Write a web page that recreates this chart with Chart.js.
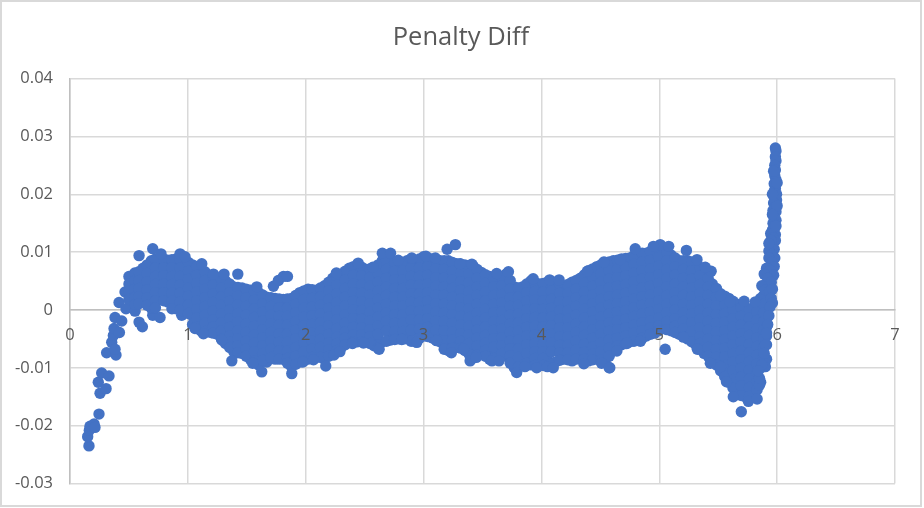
<!DOCTYPE html>
<html lang="en">
<head>
    <meta charset="UTF-8">
    <title>Penalty Diff</title>
    <script src="https://cdn.jsdelivr.net/npm/chart.js"></script>
    <style>
        body { margin: 0; background: #fff; }
        canvas { display: block; outline: 2px solid #d9d9d9; outline-offset: -2px; }
    </style>
</head>
<body>
<canvas id="penaltyChart" width="922" height="507"></canvas>

<script>
    // Values. Left tail, stray points, the spike near x=6.
    const tailX = [0.161,0.15,0.164,0.17,0.204,0.212,0.246,0.255,0.24,0.269,0.306,0.331,0.311,0.354,0.39,0.382,0.368,0.374,0.419,0.382,0.439,0.416,0.475,0.552,0.467,0.586,0.614,0.702,0.764,0.716,0.948];
    const tailY = [-0.0235,-0.0219,-0.0208,-0.0201,-0.0197,-0.0203,-0.018,-0.0144,-0.0125,-0.0109,-0.0136,-0.0114,-0.0074,-0.0056,-0.0078,-0.0068,-0.0044,-0.0032,-0.0039,-0.0013,-0.0019,0.0013,0.0002,-0.0002,0.0031,-0.0021,-0.0029,-0.0009,-0.0013,0.0003,-0.0009];

    const strayX = [0.586,0.702,0.772,0.934,0.976,1.118,1.217,1.307,1.424,1.585,1.726,1.768,1.811,1.845,1.061,1.132,1.288,1.373,1.627,1.882,1.55,2.17,3.2,3.27,2.65,2.72,5.05,5.696,5.72,5.44,5.23,4.796,5.008,5.433,5.205,5.323,5.628,5.756,5.83,5.85,4.84,4.725,4.58];
    const strayY = [0.0094,0.0106,0.0097,0.0097,0.0092,0.008,0.0062,0.0062,0.0062,0.004,0.0041,0.0051,0.0058,0.0058,-0.0032,-0.0041,-0.0052,-0.0088,-0.0107,-0.011,-0.0092,-0.0097,0.0105,0.0113,0.0098,0.0098,-0.0068,-0.0176,0.0015,0.0067,0.0103,0.0106,0.0113,-0.0092,-0.0047,-0.0068,-0.015,-0.0158,-0.0154,-0.013,-0.0054,-0.0058,-0.01];

    // Bumps along the upper and lower edge of the band
    const edgeX = [2.26,2.445,2.57,2.785,2.9,3.02,3.1,3.31,3.41,3.62,3.72,3.93,4.07,4.15,4.39,4.53,4.67,4.95,5.08,5.32,5.39,5.52,5.6,5.815,1.975,2.066,2.24,2.29,2.397,2.49,2.623,2.815,2.943,3.11,3.236,3.34,3.395,3.447,3.58,3.64,3.79,3.86,3.96,4.05,4.1,4.36,4.51,4.575,4.64,5.57,5.85,5.9,5.52];
    const edgeY = [0.0064,0.0081,0.0074,0.0086,0.009,0.0093,0.009,0.008,0.0079,0.0063,0.0066,0.0054,0.0052,0.0052,0.0067,0.0083,0.0087,0.011,0.011,0.0087,0.0074,0.0025,0.0014,0.0014,-0.009,-0.0086,-0.0078,-0.0072,-0.0058,-0.0057,-0.0068,-0.0051,-0.0056,-0.0053,-0.0074,-0.0067,-0.0088,-0.0082,-0.0088,-0.0088,-0.0108,-0.0098,-0.01,-0.0098,-0.01,-0.0093,-0.0092,-0.01,-0.0071,-0.0124,-0.0118,-0.0098,-0.0098];

    const spikeX = [5.985,5.99,5.985,5.99,5.98,5.985,5.98,5.99,5.975,5.985,5.975,5.995,5.98,5.995,5.97,5.985,5.965,5.99,5.975,5.99,5.965,5.98,5.96,5.985,5.945,5.97,5.94,5.985,5.95,5.975,5.93,5.955,5.98,5.93,5.955,5.975,5.91,5.94,5.97,5.89,5.92,5.95,5.87,5.9,5.935,5.96,5.95,5.96,5.94,5.93,5.92,5.91,5.9,5.89,5.87,5.84,5.97,6,5.96,6,5.96,5.95,5.93,5.99];
    const spikeY = [0.028,0.0275,0.0265,0.0258,0.025,0.0242,0.0232,0.0225,0.0218,0.021,0.0205,0.02,0.0192,0.019,0.0185,0.0178,0.0172,0.017,0.016,0.0155,0.015,0.0145,0.0138,0.013,0.0132,0.0125,0.0118,0.012,0.0108,0.0105,0.0102,0.0095,0.009,0.009,0.0082,0.0075,0.0072,0.0068,0.006,0.0062,0.0055,0.0048,0.0042,0.0035,0.0032,0.0036,0.002,0.0012,0.0005,-0.001,-0.0025,-0.004,-0.006,-0.0075,-0.0095,-0.0105,0.024,0.022,0.02,0.018,0.0165,0.012,0.0115,0.0145];

    // The dense band: one x per column, the y values seen or estimated in that column.
    const bandX = [0.5,0.55,0.62,0.69,0.76,0.83,0.9,0.97,1.04,1.11,1.18,1.25,1.32,1.39,1.46,1.53,1.6,1.67,1.74,1.81,1.88,1.95,2.02,2.09,2.16,2.23,2.3,2.37,2.44,2.51,2.58,2.65,2.72,2.79,2.86,2.93,3,3.07,3.14,3.21,3.28,3.35,3.42,3.49,3.56,3.63,3.7,3.77,3.84,3.91,3.98,4.05,4.12,4.19,4.26,4.33,4.4,4.47,4.54,4.61,4.68,4.75,4.82,4.89,4.96,5.03,5.1,5.17,5.24,5.31,5.38,5.45,5.52,5.59,5.66,5.73,5.8,5.86,5.91];
    const bandY = [
        [0.0058,0.0045,0.0032,0.0018],
        [0.0064,0.005,0.0036,0.0022,0.001],
        [0.0072,0.0058,0.0044,0.003,0.0016],
        [0.0085,0.007,0.0056,0.0042,0.0028,0.0014,0.0003],
        [0.009,0.0075,0.006,0.0046,0.0032,0.0018],
        [0.0086,0.0072,0.0058,0.0043,0.0029,0.0014],
        [0.0088,0.0074,0.0059,0.0045,0.003,0.0016,0.0002],
        [0.0086,0.0071,0.0057,0.0042,0.0028,0.0013,-0.0002],
        [0.0078,0.0063,0.0049,0.0034,0.002,0.0005,-0.001,-0.0025],
        [0.0072,0.0057,0.0042,0.0027,0.0012,-0.0003,-0.0019,-0.0036],
        [0.006,0.0045,0.0031,0.0016,0.0001,-0.0014,-0.0026,-0.0038],
        [0.0056,0.0041,0.0026,0.0011,-0.0004,-0.0019,-0.0031,-0.0042],
        [0.005,0.0036,0.0021,0.0006,-0.0009,-0.0024,-0.004,-0.0058],
        [0.004,0.0026,0.0011,-0.0004,-0.0019,-0.0034,-0.0049,-0.006,-0.0072],
        [0.0038,0.0023,0.0008,-0.0007,-0.0022,-0.0037,-0.0052,-0.0064,-0.0075],
        [0.0034,0.0019,0.0004,-0.0011,-0.0026,-0.0041,-0.0056,-0.0071,-0.0085],
        [0.003,0.0015,0,-0.0015,-0.003,-0.0045,-0.0058,-0.0072,-0.0084,-0.0095],
        [0.0022,0.0007,-0.0008,-0.0023,-0.0038,-0.0052,-0.0066,-0.0078,-0.009],
        [0.002,0.0005,-0.001,-0.0025,-0.004,-0.0055,-0.007,-0.0085],
        [0.0018,0.0003,-0.0012,-0.0027,-0.0042,-0.0057,-0.0071,-0.0085],
        [0.002,0.0005,-0.001,-0.0025,-0.004,-0.0055,-0.007,-0.0084,-0.0098],
        [0.003,0.0015,0,-0.0015,-0.003,-0.0045,-0.006,-0.0075,-0.009],
        [0.0036,0.0021,0.0006,-0.0009,-0.0024,-0.0039,-0.0054,-0.0069,-0.0085],
        [0.0034,0.0019,0.0004,-0.0011,-0.0026,-0.004,-0.0054,-0.0067,-0.008],
        [0.0042,0.0027,0.0012,-0.0003,-0.0018,-0.0033,-0.0048,-0.0063,-0.0075,-0.0085],
        [0.0055,0.004,0.0025,0.001,-0.0005,-0.002,-0.0035,-0.005,-0.0063,-0.0075],
        [0.0062,0.0047,0.0032,0.0017,0.0002,-0.0013,-0.0028,-0.0043,-0.0054,-0.0065],
        [0.0072,0.0057,0.0042,0.0027,0.0012,-0.0003,-0.0018,-0.0033,-0.0045,-0.0056],
        [0.0078,0.0063,0.0048,0.0033,0.0018,0.0003,-0.0012,-0.0027,-0.0042,-0.0055],
        [0.007,0.0055,0.004,0.0025,0.001,-0.0005,-0.002,-0.0035,-0.0045,-0.0054],
        [0.0072,0.0057,0.0042,0.0027,0.0012,-0.0003,-0.0018,-0.0033,-0.0048,-0.0062],
        [0.0085,0.007,0.0055,0.004,0.0025,0.001,-0.0005,-0.002,-0.0035,-0.0055],
        [0.0085,0.007,0.0055,0.004,0.0025,0.001,-0.0005,-0.002,-0.0036,-0.0052],
        [0.008,0.0065,0.005,0.0035,0.002,0.0005,-0.001,-0.0025,-0.0038,-0.005],
        [0.0085,0.007,0.0055,0.004,0.0025,0.001,-0.0005,-0.002,-0.0035,-0.005],
        [0.0085,0.007,0.0055,0.004,0.0025,0.001,-0.0005,-0.002,-0.0037,-0.0055],
        [0.0092,0.0077,0.0062,0.0047,0.0032,0.0017,0.0002,-0.0013,-0.0029,-0.0045],
        [0.0088,0.0073,0.0058,0.0043,0.0028,0.0013,-0.0002,-0.0017,-0.0032,-0.0048],
        [0.0085,0.007,0.0055,0.004,0.0025,0.001,-0.0005,-0.002,-0.0037,-0.0055],
        [0.0085,0.007,0.0055,0.004,0.0025,0.001,-0.0005,-0.002,-0.0035,-0.0052,-0.007],
        [0.008,0.0065,0.005,0.0035,0.002,0.0005,-0.001,-0.0025,-0.004,-0.0052,-0.0062],
        [0.0078,0.0063,0.0048,0.0033,0.0018,0.0003,-0.0012,-0.0027,-0.0042,-0.0056,-0.007],
        [0.0076,0.0061,0.0046,0.0031,0.0016,0.0001,-0.0014,-0.0029,-0.0044,-0.0059,-0.0072,-0.0083],
        [0.0065,0.005,0.0035,0.002,0.0005,-0.001,-0.0025,-0.004,-0.0053,-0.0064,-0.0075],
        [0.0058,0.0043,0.0028,0.0013,-0.0002,-0.0017,-0.0032,-0.0047,-0.006,-0.0072,-0.0085],
        [0.0052,0.0037,0.0022,0.0007,-0.0008,-0.0023,-0.0038,-0.0053,-0.0068,-0.0082],
        [0.0062,0.0047,0.0032,0.0017,0.0002,-0.0013,-0.0028,-0.0043,-0.0056,-0.0068,-0.008],
        [0.004,0.0025,0.001,-0.0005,-0.002,-0.0035,-0.005,-0.0065,-0.0078,-0.009,-0.01],
        [0.004,0.0025,0.001,-0.0005,-0.002,-0.0035,-0.005,-0.0065,-0.0078,-0.009],
        [0.005,0.0035,0.002,0.0005,-0.001,-0.0025,-0.004,-0.0055,-0.007,-0.0083,-0.0095],
        [0.0045,0.003,0.0015,0,-0.0015,-0.003,-0.0045,-0.006,-0.0073,-0.0085,-0.0095],
        [0.0048,0.0033,0.0018,0.0003,-0.0012,-0.0027,-0.0042,-0.0057,-0.0072,-0.0085,-0.0096],
        [0.0048,0.0033,0.0018,0.0003,-0.0012,-0.0027,-0.0042,-0.0057,-0.007,-0.009],
        [0.004,0.0025,0.001,-0.0005,-0.002,-0.0035,-0.005,-0.0065,-0.0075,-0.0085],
        [0.0048,0.0033,0.0018,0.0003,-0.0012,-0.0027,-0.0042,-0.0057,-0.0072,-0.0088],
        [0.0055,0.004,0.0025,0.001,-0.0005,-0.002,-0.0035,-0.005,-0.0066,-0.0082],
        [0.0068,0.0053,0.0038,0.0023,0.0008,-0.0007,-0.0022,-0.0037,-0.0052,-0.0065,-0.0077,-0.0088],
        [0.0075,0.006,0.0045,0.003,0.0015,0,-0.0015,-0.003,-0.0045,-0.006,-0.0073,-0.0085],
        [0.0082,0.0067,0.0052,0.0037,0.0022,0.0007,-0.0008,-0.0023,-0.0038,-0.0053,-0.0065,-0.0078,-0.009],
        [0.0085,0.007,0.0055,0.004,0.0025,0.001,-0.0005,-0.002,-0.0035,-0.005,-0.0065],
        [0.0088,0.0073,0.0058,0.0043,0.0028,0.0013,-0.0002,-0.0017,-0.0032,-0.0046,-0.006],
        [0.009,0.0075,0.006,0.0045,0.003,0.0015,0,-0.0015,-0.003,-0.0043,-0.0055],
        [0.0098,0.0083,0.0068,0.0053,0.0038,0.0023,0.0008,-0.0007,-0.0022,-0.0037,-0.0052],
        [0.0098,0.0083,0.0068,0.0053,0.0038,0.0023,0.0008,-0.0007,-0.0022,-0.0034,-0.0045],
        [0.0105,0.009,0.0075,0.006,0.0045,0.003,0.0015,0,-0.0015,-0.0028,-0.004],
        [0.0105,0.009,0.0075,0.006,0.0045,0.003,0.0015,0,-0.0016,-0.0032],
        [0.0095,0.008,0.0065,0.005,0.0035,0.002,0.0005,-0.001,-0.0024,-0.0036],
        [0.0085,0.007,0.0055,0.004,0.0025,0.001,-0.0005,-0.002,-0.0032,-0.0042],
        [0.0085,0.007,0.0055,0.004,0.0025,0.001,-0.0005,-0.002,-0.0035,-0.005],
        [0.0082,0.0067,0.0052,0.0037,0.0022,0.0007,-0.0008,-0.0023,-0.0038,-0.005,-0.006],
        [0.0065,0.005,0.0035,0.002,0.0005,-0.001,-0.0025,-0.004,-0.0055,-0.0075],
        [0.0045,0.003,0.0015,0,-0.0015,-0.003,-0.0045,-0.006,-0.0072,-0.0085],
        [0.0028,0.0013,-0.0002,-0.0017,-0.0032,-0.0047,-0.0062,-0.0077,-0.0091,-0.0105],
        [0.002,0.0005,-0.001,-0.0025,-0.004,-0.0055,-0.007,-0.0085,-0.01,-0.0113,-0.0125],
        [0.001,-0.0005,-0.002,-0.0035,-0.005,-0.0065,-0.008,-0.0095,-0.011,-0.0125,-0.0145],
        [-0.0002,-0.0017,-0.0032,-0.0047,-0.0062,-0.0077,-0.0092,-0.0107,-0.0122,-0.0136,-0.015],
        [0.0005,-0.001,-0.0025,-0.004,-0.0055,-0.007,-0.0085,-0.01,-0.0115,-0.013,-0.0148],
        [0.002,0.0005,-0.001,-0.0025,-0.004,-0.0055,-0.007,-0.0085,-0.01,-0.0125],
        [0.006,0.0045,0.003,0.0015,0,-0.0015,-0.003,-0.0045,-0.006,-0.0085]
    ];

    // More estimated columns, sitting between the ones above
    const fillX = [0.585,0.655,0.725,0.795,0.865,0.935,1.005,1.075,1.145,1.215,1.285,1.355,1.425,1.495,1.565,1.635,1.705,1.775,1.845,1.915,1.985,2.055,2.125,2.195,2.265,2.335,2.405,2.475,2.545,2.615,2.685,2.755,2.825,2.895,2.965,3.035,3.105,3.175,3.245,3.315,3.385,3.455,3.525,3.595,3.665,3.735,3.805,3.875,3.945,4.015,4.085,4.155,4.225,4.295,4.365,4.435,4.505,4.575,4.645,4.715,4.785,4.855,4.925,4.995,5.065,5.135,5.205,5.275,5.345,5.415,5.485,5.555,5.625,5.695,5.765,5.83,5.885];
    const fillY = [
        [0.0066,0.0051,0.0037,0.0023,0.0011],
        [0.0078,0.0063,0.0049,0.0035,0.0021,0.0008],
        [0.0088,0.0073,0.0058,0.0044,0.003,0.0016,0.0004],
        [0.0088,0.0073,0.0059,0.0045,0.003,0.0016],
        [0.0087,0.0073,0.0058,0.0044,0.0029,0.0015,0.0002],
        [0.0087,0.0072,0.0058,0.0043,0.0029,0.0014,0],
        [0.0082,0.0067,0.0053,0.0038,0.0024,0.0009,-0.0006],
        [0.0075,0.006,0.0046,0.0031,0.0016,0.0001,-0.0014,-0.0029],
        [0.0066,0.0051,0.0036,0.0021,0.0006,-0.0009,-0.0023,-0.0037],
        [0.0058,0.0043,0.0028,0.0013,-0.0002,-0.0017,-0.0029,-0.004],
        [0.0053,0.0038,0.0023,0.0008,-0.0007,-0.0022,-0.0036,-0.005],
        [0.0045,0.003,0.0015,0,-0.0015,-0.003,-0.0045,-0.0055,-0.0065],
        [0.0039,0.0024,0.0009,-0.0006,-0.0021,-0.0036,-0.005,-0.0062,-0.0074],
        [0.0036,0.0021,0.0006,-0.0009,-0.0024,-0.0039,-0.0054,-0.0068,-0.008],
        [0.0032,0.0017,0.0002,-0.0013,-0.0028,-0.0043,-0.0057,-0.0072,-0.0088],
        [0.0026,0.0011,-0.0004,-0.0019,-0.0034,-0.0048,-0.0062,-0.0075,-0.0087],
        [0.0021,0.0006,-0.0009,-0.0024,-0.0039,-0.0054,-0.0068,-0.0082],
        [0.0019,0.0004,-0.0011,-0.0026,-0.0041,-0.0056,-0.0071,-0.0085],
        [0.0019,0.0004,-0.0011,-0.0026,-0.0041,-0.0056,-0.0071,-0.0084,-0.0092],
        [0.0025,0.001,-0.0005,-0.002,-0.0035,-0.005,-0.0065,-0.008,-0.0094],
        [0.0033,0.0018,0.0003,-0.0012,-0.0027,-0.0042,-0.0057,-0.0072,-0.0088],
        [0.0035,0.002,0.0005,-0.001,-0.0025,-0.004,-0.0054,-0.0068,-0.0082],
        [0.0038,0.0023,0.0008,-0.0007,-0.0022,-0.0037,-0.0051,-0.0065,-0.0082],
        [0.0048,0.0033,0.0018,0.0003,-0.0012,-0.0027,-0.0042,-0.0057,-0.0069,-0.008],
        [0.0058,0.0043,0.0028,0.0013,-0.0002,-0.0017,-0.0032,-0.0047,-0.0058,-0.007],
        [0.0067,0.0052,0.0037,0.0022,0.0007,-0.0008,-0.0023,-0.0038,-0.0049,-0.006],
        [0.0075,0.006,0.0045,0.003,0.0015,0,-0.0015,-0.003,-0.0043,-0.0055],
        [0.0074,0.0059,0.0044,0.0029,0.0014,-0.0001,-0.0016,-0.0031,-0.0043,-0.0055],
        [0.0071,0.0056,0.0041,0.0026,0.0011,-0.0004,-0.0019,-0.0034,-0.0046,-0.0058],
        [0.0078,0.0063,0.0048,0.0033,0.0018,0.0003,-0.0012,-0.0027,-0.0042,-0.0066],
        [0.0085,0.007,0.0055,0.004,0.0025,0.001,-0.0005,-0.002,-0.0036,-0.0054],
        [0.0082,0.0067,0.0052,0.0037,0.0022,0.0007,-0.0008,-0.0023,-0.0037,-0.0051],
        [0.0082,0.0067,0.0052,0.0037,0.0022,0.0007,-0.0008,-0.0023,-0.0037,-0.005],
        [0.0088,0.0073,0.0058,0.0043,0.0028,0.0013,-0.0002,-0.0017,-0.0035,-0.0054],
        [0.0088,0.0073,0.0058,0.0043,0.0028,0.0013,-0.0002,-0.0017,-0.0033,-0.0049],
        [0.009,0.0075,0.006,0.0045,0.003,0.0015,0,-0.0015,-0.003,-0.0046],
        [0.0086,0.0071,0.0056,0.0041,0.0026,0.0011,-0.0004,-0.0019,-0.0035,-0.0052],
        [0.0085,0.007,0.0055,0.004,0.0025,0.001,-0.0005,-0.002,-0.0036,-0.0053,-0.0068],
        [0.0082,0.0067,0.0052,0.0037,0.0022,0.0007,-0.0008,-0.0023,-0.0038,-0.0052,-0.0066],
        [0.0079,0.0064,0.0049,0.0034,0.0019,0.0004,-0.0011,-0.0026,-0.0041,-0.0054,-0.0066],
        [0.0077,0.0062,0.0047,0.0032,0.0017,0.0002,-0.0013,-0.0028,-0.0043,-0.0058,-0.0076],
        [0.007,0.0055,0.004,0.0025,0.001,-0.0005,-0.002,-0.0035,-0.0049,-0.0062,-0.0078],
        [0.0061,0.0046,0.0031,0.0016,0.0001,-0.0014,-0.0029,-0.0044,-0.0057,-0.007,-0.008],
        [0.0055,0.004,0.0025,0.001,-0.0005,-0.002,-0.0035,-0.005,-0.0064,-0.0084],
        [0.0057,0.0042,0.0027,0.0012,-0.0003,-0.0018,-0.0033,-0.0048,-0.0062,-0.0075],
        [0.0051,0.0036,0.0021,0.0006,-0.0009,-0.0024,-0.0039,-0.0054,-0.0067,-0.0079,-0.0092],
        [0.0038,0.0023,0.0008,-0.0007,-0.0022,-0.0037,-0.0052,-0.0067,-0.0082,-0.0098],
        [0.0045,0.003,0.0015,0,-0.0015,-0.003,-0.0045,-0.006,-0.0075,-0.0092],
        [0.0047,0.0032,0.0017,0.0002,-0.0013,-0.0028,-0.0043,-0.0058,-0.0072,-0.0084,-0.0096],
        [0.0046,0.0031,0.0016,0.0001,-0.0014,-0.0029,-0.0044,-0.0059,-0.0072,-0.0084,-0.0096],
        [0.0048,0.0033,0.0018,0.0003,-0.0012,-0.0027,-0.0042,-0.0057,-0.0072,-0.0094],
        [0.0044,0.0029,0.0014,-0.0001,-0.0016,-0.0031,-0.0046,-0.0061,-0.0074,-0.0087],
        [0.0044,0.0029,0.0014,-0.0001,-0.0016,-0.0031,-0.0046,-0.0061,-0.0074,-0.0086],
        [0.0051,0.0036,0.0021,0.0006,-0.0009,-0.0024,-0.0039,-0.0054,-0.0069,-0.0085],
        [0.0061,0.0046,0.0031,0.0016,0.0001,-0.0014,-0.0029,-0.0044,-0.0059,-0.0073,-0.0085],
        [0.0071,0.0056,0.0041,0.0026,0.0011,-0.0004,-0.0019,-0.0034,-0.0049,-0.0064,-0.0076,-0.0086],
        [0.0078,0.0063,0.0048,0.0033,0.0018,0.0003,-0.0012,-0.0027,-0.0042,-0.0057,-0.0072,-0.0087],
        [0.0083,0.0068,0.0053,0.0038,0.0023,0.0008,-0.0007,-0.0022,-0.0037,-0.0052,-0.0066,-0.008],
        [0.0086,0.0071,0.0056,0.0041,0.0026,0.0011,-0.0004,-0.0019,-0.0034,-0.0049,-0.0062],
        [0.0089,0.0074,0.0059,0.0044,0.0029,0.0014,-0.0001,-0.0016,-0.0031,-0.0045,-0.0058],
        [0.0094,0.0079,0.0064,0.0049,0.0034,0.0019,0.0004,-0.0011,-0.0026,-0.004,-0.0054],
        [0.0098,0.0083,0.0068,0.0053,0.0038,0.0023,0.0008,-0.0007,-0.0022,-0.0036,-0.0049],
        [0.0101,0.0086,0.0071,0.0056,0.0041,0.0026,0.0011,-0.0004,-0.0019,-0.0031,-0.0042],
        [0.0106,0.0091,0.0076,0.0061,0.0046,0.0031,0.0016,0.0001,-0.0014,-0.0027,-0.0036],
        [0.01,0.0085,0.007,0.0055,0.004,0.0025,0.001,-0.0005,-0.002,-0.0034],
        [0.009,0.0075,0.006,0.0045,0.003,0.0015,0,-0.0015,-0.0028,-0.0039],
        [0.0085,0.007,0.0055,0.004,0.0025,0.001,-0.0005,-0.002,-0.0033,-0.0046],
        [0.0083,0.0068,0.0053,0.0038,0.0023,0.0008,-0.0007,-0.0022,-0.0037,-0.0055],
        [0.0074,0.0059,0.0044,0.0029,0.0014,-0.0001,-0.0016,-0.0031,-0.0046,-0.0058,-0.0068],
        [0.0055,0.004,0.0025,0.001,-0.0005,-0.002,-0.0035,-0.005,-0.0065,-0.008],
        [0.0037,0.0022,0.0007,-0.0008,-0.0023,-0.0038,-0.0053,-0.0068,-0.0082,-0.0095],
        [0.0024,0.0009,-0.0006,-0.0021,-0.0036,-0.0051,-0.0066,-0.0081,-0.0096,-0.0115],
        [0.0015,0,-0.0015,-0.003,-0.0045,-0.006,-0.0075,-0.009,-0.0105,-0.012,-0.0135],
        [0.0004,-0.0011,-0.0026,-0.0041,-0.0056,-0.0071,-0.0086,-0.0101,-0.0116,-0.0131,-0.0148],
        [0.0001,-0.0014,-0.0029,-0.0044,-0.0059,-0.0074,-0.0089,-0.0104,-0.0119,-0.0134,-0.0149],
        [0.0012,-0.0003,-0.0018,-0.0033,-0.0048,-0.0063,-0.0078,-0.0093,-0.0108,-0.0123,-0.0138],
        [0.004,0.0025,0.001,-0.0005,-0.002,-0.0035,-0.005,-0.0065,-0.008,-0.0098]
    ];

    const xMin = 0, xMax = 7, xStep = 1;
    const yMin = -0.03, yMax = 0.04, yStep = 0.01;

    const toPoints = (xs, ys) => xs.map((x, i) => ({x: x, y: ys[i]}));
    const columnPoints = (xs, ys) => xs.flatMap((x, i) => ys[i].map(y => ({x: x, y: y})));

    const ctx = document.getElementById('penaltyChart').getContext('2d');
    new Chart(ctx, {
        type: 'scatter',
        data: {
            datasets: [{
                label: 'Penalty Diff',
                data: [
                    ...toPoints(tailX, tailY),
                    ...columnPoints(bandX, bandY),
                    ...columnPoints(fillX, fillY),
                    ...toPoints(strayX, strayY),
                    ...toPoints(edgeX, edgeY),
                    ...toPoints(spikeX, spikeY)
                ],
                backgroundColor: '#4472C4',
                borderWidth: 0,
                pointRadius: 5.7
            }]
        },
        options: {
            responsive: false,
            animation: false,
            layout: {
                padding: {left: 0, right: 0, top: 0, bottom: 23.5}
            },
            plugins: {
                legend: {display: false},
                tooltip: {enabled: false},
                title: {
                    display: true,
                    text: 'Penalty Diff',
                    color: '#595959',
                    font: {family: '"Open Sans"', size: 25.5, weight: 'normal'},
                    padding: {top: 22, bottom: 26}
                }
            },
            scales: {
                x: {
                    type: 'linear',
                    position: {y: 0},
                    min: xMin,
                    max: xMax,
                    afterFit: scale => {
                        scale.height = 0;
                        // right margin here, not in layout.padding, so the title stays centred
                        scale.paddingRight = 27;
                    },
                    ticks: {
                        stepSize: xStep,
                        z: 1,
                        padding: 15,
                        color: '#595959',
                        font: {family: '"Open Sans"', size: 16.5},
                        maxRotation: 0
                    },
                    grid: {color: '#d9d9d9', lineWidth: 1.5, drawTicks: false},
                    border: {color: '#bfbfbf', width: 1.5}
                },
                y: {
                    min: yMin,
                    max: yMax,
                    afterFit: scale => {
                        scale.width = 70;
                        scale.paddingTop = 0;
                        scale.paddingBottom = 0;
                    },
                    ticks: {
                        stepSize: yStep,
                        padding: 17,
                        color: '#595959',
                        font: {family: '"Open Sans"', size: 16.5}
                    },
                    grid: {color: '#d9d9d9', lineWidth: 1.5, drawTicks: false},
                    border: {color: '#bfbfbf', width: 1.5}
                }
            }
        }
    });
</script>
</body>
</html>
